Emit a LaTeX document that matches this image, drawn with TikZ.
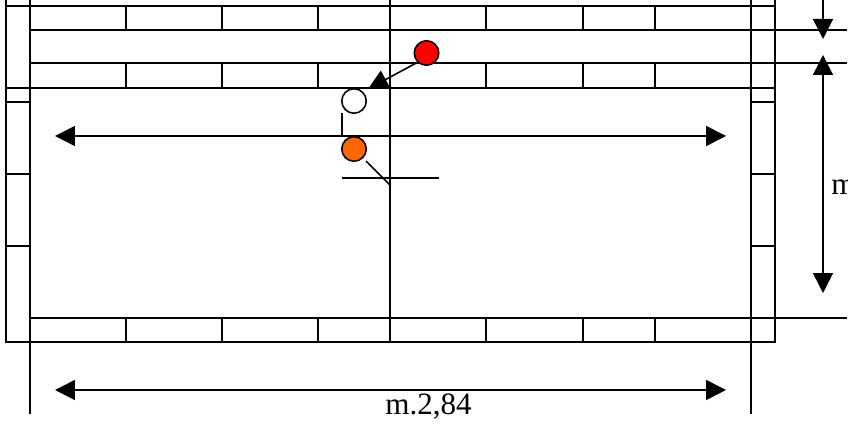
\documentclass[tikz,border=0pt]{standalone}
\usepackage{fontspec}
\setmainfont{Liberation Serif}
\usetikzlibrary{arrows.meta}
\tikzstyle{wall} = [line width=0.9pt, black]
\tikzstyle{arrow} = [line width=0.9pt, black, {Triangle[length=0.4cm,width=0.4cm]}-{Triangle[length=0.4cm,width=0.4cm]}]
\tikzstyle{tiparrow} = [line width=0.9pt, black, -{Triangle[length=0.4cm,width=0.4cm]}]
\tikzstyle{lamp} = [circle, draw=black, line width=0.9pt, minimum size=0.49cm, inner sep=0pt]
\tikzstyle{label} = [inner sep=0pt, font=\fontsize{17.7}{18}\selectfont]
\definecolor{lampred}{RGB}{255,0,0}
\definecolor{lamporange}{RGB}{255,102,0}

\begin{document}
\begin{tikzpicture}[x=0.02cm, y=-0.02cm]
   \useasboundingbox (0,0) rectangle (848,428);

   % long lines
   \draw [wall] (6,0) -- (6,342) -- (775,342) -- (775,0);
   \draw [wall] (30,0) -- (30,414);
   \draw [wall] (751,0) -- (751,414);
   \draw [wall] (390,0) -- (390,342);
   \draw [wall] (6,6) -- (775,6);
   \draw [wall] (6,88) -- (775,88);
   \foreach \y in {30,63,318}
      \draw [wall] (30,\y) -- (847,\y);

   % bricks
   \foreach \x in {126,222,318,486,583,655} {
      \draw [wall] (\x,6) -- (\x,30);
      \draw [wall] (\x,63) -- (\x,88);
      \draw [wall] (\x,318) -- (\x,342);
   }
   \foreach \y in {102,174,246} {
      \draw [wall] (6,\y) -- (30,\y);
      \draw [wall] (751,\y) -- (775,\y);
   }

   % lamps
   \node (red) [lamp, fill=lampred] at (426.5,53) {};
   \node (white) [lamp, fill=white] at (354,101) {};
   \node (orange) [lamp, fill=lamporange] at (354,149) {};
   \coordinate (redend) at (368,89);
   \draw [tiparrow] (red.226) -- (redend);

   % switches
   \draw [wall] (342,113) -- (342,137);
   \draw [wall] (342,178) -- (439,178);
   \draw [wall] (366,161) -- (390,185);

   % dimensions
   \coordinate (innerw) at (55,136);
   \coordinate (innere) at (726,136);
   \draw [arrow] (innerw) -- (innere);
   \coordinate (lowerw) at (55,390);
   \coordinate (lowere) at (726,390);
   \draw [arrow] (lowerw) -- (lowere);
   \coordinate (topn) at (823,0);
   \coordinate (tops) at (823,39);
   \draw [tiparrow] (topn) -- (tops);
   \coordinate (rightn) at (823,55);
   \coordinate (rights) at (823,293);
   \draw [arrow] (rightn) -- (rights);

   \node (width) [label, anchor=base west] at (385,415) {m.2,84};
   \node (height) [label, anchor=base west] at (831,195) {m};
\end{tikzpicture}
\end{document}
